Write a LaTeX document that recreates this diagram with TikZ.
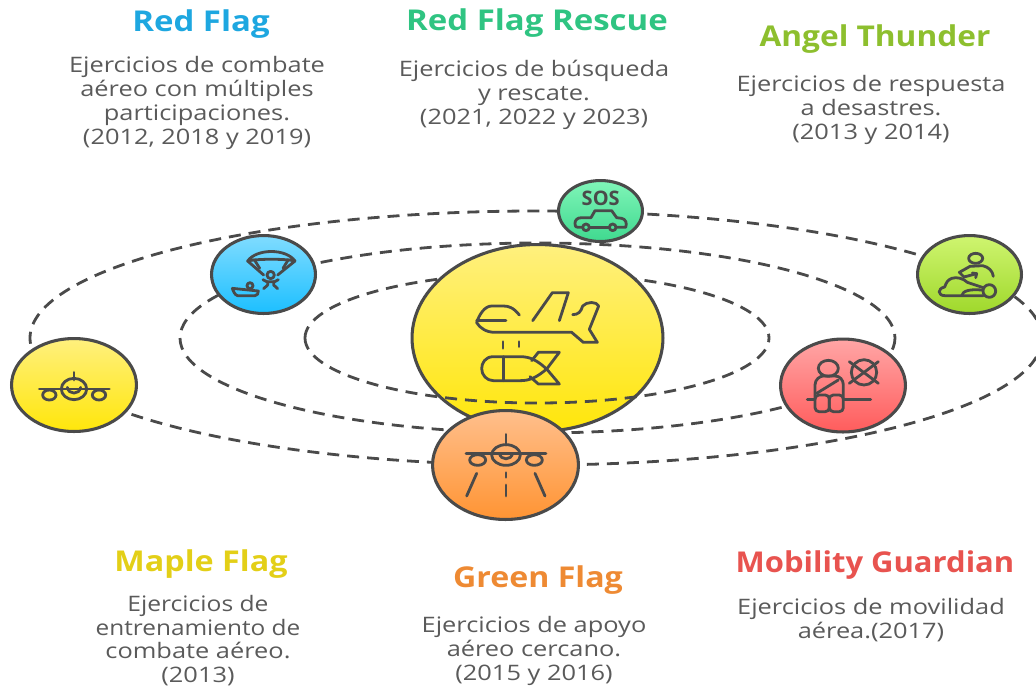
\documentclass[tikz,border=0pt]{standalone}
\usepackage{fontspec}
\usetikzlibrary{shapes.geometric}
\setmainfont{Open Sans}
\newfontfamily\bodyfont[FakeStretch=1.19]{Open Sans}
\newfontfamily\titlefont[FakeStretch=1.15]{Open Sans}
\definecolor{ink}{HTML}{4A4A4A}
\definecolor{txt}{HTML}{5A5A5A}
\definecolor{yt}{HTML}{FFF07E}\definecolor{yb}{HTML}{FFE60A}
\definecolor{ot}{HTML}{FFBF8C}\definecolor{ob}{HTML}{FF9433}
\definecolor{st}{HTML}{80F5B8}\definecolor{sb}{HTML}{3FD98F}
\definecolor{bt}{HTML}{80DCFF}\definecolor{bb}{HTML}{1CBFFF}
\definecolor{gt}{HTML}{CFF570}\definecolor{gb}{HTML}{9FD82B}
\definecolor{rt}{HTML}{FFA6A6}\definecolor{rb}{HTML}{FF5C5C}
\definecolor{c1}{HTML}{1EA7E0}\definecolor{c2}{HTML}{2FC482}
\definecolor{c3}{HTML}{8DBF2E}\definecolor{c4}{HTML}{E3CF17}
\definecolor{c5}{HTML}{EE8A33}\definecolor{c6}{HTML}{E8534F}
\tikzset{
  orb/.style n args={4}{ellipse,draw=ink,line width=2.3pt,inner sep=0pt,
    minimum width=#1*0.75pt-2.3pt,minimum height=#2*0.75pt-2.3pt,top color=#3,bottom color=#4},
  orbit/.style={draw=ink,line width=2.1pt,dash pattern=on 9pt off 6pt},
  icon/.style={draw=ink,line width=2.1pt,line cap=round,line join=round},
  ttl/.style={font=\titlefont\bfseries\fontsize{21.5}{24}\selectfont,anchor=center,inner sep=0pt},
  bdy/.style={font=\bodyfont\fontsize{16}{18}\selectfont,text=txt,align=center,anchor=center,inner sep=0pt},
}
\begin{document}
\begin{tikzpicture}[x=0.75pt,y=-0.75pt]
\useasboundingbox (0,0) rectangle (1036,687);
\begin{scope}
\clip (0,0) rectangle (1036,687);
\draw[orbit] (536,338) ellipse (506 and 127);
\draw[orbit] (537.5,338) ellipse (357.5 and 95);
\draw[orbit] (305,338) arc (180:360:232 and 65);
\node[orb={254}{190}{yt}{yb}] (core) at (537.5,338) {};
\draw[orbit] (305,338) arc (180:0:232 and 65);
\node[orb={149}{112}{ot}{ob}] (green) at (505.5,465) {};
\node[orb={87}{64}{st}{sb}] (sos) at (600.5,211) {};
\node[orb={107}{81}{bt}{bb}] (blue) at (263.5,274.5) {};
\node[orb={128}{96}{yt}{yb}] (maple) at (74,385) {};
\node[orb={107}{81}{gt}{gb}] (angel) at (969.5,274.5) {};
\node[orb={128}{96}{rt}{rb}] (mob) at (843,385.5) {};
\end{scope}

% central icon and friends (zoom 1 coordinates)
\begin{scope}[shift={(400,170)},x=0.25pt,y=-0.25pt]
 \draw[icon] (358,435) .. controls (340,412) and (325,408) .. (310,408) -- (275,408) .. controls (255,408) and (238,432) .. (230,458) .. controls (240,475) and (260,487) .. (285,487) -- (515,487) -- (550,517) -- (592,517) -- (568,478) -- (596,408) .. controls (590,394) and (560,394) .. (548,408) .. controls (543,425) and (535,434) .. (518,434);
 \draw[icon] (230,452) -- (318,452);
 \draw[icon] (398,452) -- (457,368) -- (505,368) -- (478,452);
 \draw[icon] (309,515) -- (309,535);
 \draw[icon] (357,515) -- (357,530);
 \draw[icon] (440,597) .. controls (410,570) and (390,560) .. (360,560) -- (280,560) .. controls (255,560) and (245,580) .. (245,596) .. controls (245,615) and (260,632) .. (280,632) -- (360,632) .. controls (390,632) and (410,622) .. (440,597);
 \draw[icon] (310,560) -- (310,632);
 \draw[icon] (395,572) -- (415,547) -- (478,547) -- (440,597) -- (478,642) -- (415,642) -- (390,620);
 % orange plane
 \draw[icon] (318,793) -- (318,825);
 \draw[icon] (198,850) -- (438,850);
 \draw[icon] (318,855) ellipse (43 and 31);
 \draw[icon] (298,850) .. controls (303,872) and (333,872) .. (338,850);
 \draw[icon] (233,870) ellipse (24 and 16);
 \draw[icon] (403,870) ellipse (24 and 16);
 \draw[icon] (230,910) -- (200,978);
 \draw[icon] (405,910) -- (435,978);
 \draw[icon] (318,908) -- (318,922);
 \draw[icon] (318,945) -- (318,978);
 % car
 \draw[icon] (548,172) -- (535,172) .. controls (525,172) and (525,165) .. (525,160) .. controls (525,150) and (532,143) .. (545,143) -- (573,143) -- (585,122) -- (635,122) -- (650,143) -- (665,145) .. controls (677,147) and (682,160) .. (677,172) -- (650,172);
 \draw[icon] (570,172) -- (627,172);
 \draw[icon] (558,172) circle (10);
 \draw[icon] (638,172) circle (10);
\end{scope}

% maple plane
\begin{scope}[shift={(0,230)},x=0.25pt,y=-0.25pt]
 \draw[icon] (222,427) -- (222,450);
 \draw[icon] (118,477) -- (328,477);
 \draw[icon] (222,477) ellipse (38 and 32);
 \draw[icon] (202,472) .. controls (206,495) and (238,495) .. (242,472);
 \draw[icon] (148,495) ellipse (20 and 15);
 \draw[icon] (297,495) ellipse (20 and 15);
\end{scope}

% parachute
\begin{scope}[shift={(225,245)},x=0.25pt,y=-0.25pt]
 \draw[icon] (68,48) .. controls (95,10) and (183,10) .. (210,48) .. controls (185,41) and (95,41) .. (68,48);
 \draw[icon] (68,48) -- (116,90);
 \draw[icon] (210,48) -- (158,90);
 \draw[icon] (88,44) -- (104,70);
 \draw[icon] (190,44) -- (174,70);
 \draw[icon] (137,90) circle (11);
 \draw[icon] (114,104) -- (125,110) -- (149,110) -- (160,104);
 \draw[icon] (128,110) -- (128,120) -- (116,131);
 \draw[icon] (146,110) -- (146,120) -- (158,131);
 \draw[icon] (22,130) -- (100,138) .. controls (100,145) and (97,152) .. (90,152) -- (38,152) .. controls (30,150) and (25,140) .. (22,130);
 \draw[icon] (75,122) circle (9);
\end{scope}

% massage
\begin{scope}[shift={(930,245)},x=0.25pt,y=-0.25pt]
 \draw[icon] (137,40) ellipse (21 and 15);
 \draw[icon] (102,96) -- (88,82) -- (120,64) -- (158,62) .. controls (176,66) and (188,78) .. (190,94);
 \draw[icon] (102,96) -- (140,86);
 \draw[icon] (127,84) -- (140,86) -- (137,98);
 \draw[icon] (112,112) .. controls (100,100) and (80,95) .. (65,100) .. controls (52,105) and (48,115) .. (44,126) .. controls (22,130) and (22,152) .. (45,152) -- (160,152);
 \draw[icon] (95,152) .. controls (98,137) and (120,132) .. (155,135);
 \draw[icon] (112,112) -- (160,128);
 \draw[icon] (178,138) circle (19);
\end{scope}

% seat belt
\begin{scope}[shift={(800,350)},x=0.25pt,y=-0.25pt]
 \draw[icon] (85,55) ellipse (30 and 24);
 \draw[icon] (45,145) -- (45,105) .. controls (45,88) and (60,78) .. (70,78) -- (105,78) .. controls (120,78) and (130,90) .. (130,105) -- (130,145);
 \draw[icon] (50,130) -- (115,90);
 \draw[icon,rounded corners=3pt] (88,145) -- (88,135) -- (45,135) -- (45,185) -- (88,185) -- (88,145);
 \draw[icon,rounded corners=3pt] (88,145) -- (88,135) -- (130,135) -- (130,185) -- (88,185) -- (88,145);
 \draw[icon] (22,148) -- (45,148);
 \draw[icon] (130,148) -- (212,148);
 \draw[icon] (192,67) circle (38);
 \draw[icon] (148,35) -- (235,100);
 \draw[icon] (235,35) -- (148,100);
\end{scope}

\node[font=\bfseries\fontsize{15}{16}\selectfont,text=ink,inner sep=0pt] (sostxt) at (600.7,198) {SOS};

\node[ttl,text=c1] (t1) at (201,24.5) {Red Flag};
\node[ttl,text=c2] (t2) at (537,23.5) {Red Flag Rescue};
\node[ttl,text=c3] (t3) at (875,39.5) {\scalebox{0.96}[1]{Angel Thunder}};
\node[ttl,text=c4] (t4) at (201,564.5) {\scalebox{0.98}[1]{Maple Flag}};
\node[ttl,text=c5] (t5) at (538,580) {\scalebox{0.975}[1]{Green Flag}};
\node[ttl,text=c6] (t6) at (875,565.5) {\scalebox{0.94}[1]{Mobility Guardian}};
\node[bdy] (b1) at (197,102.5) {Ejercicios de combate\\aéreo con múltiples\\participaciones.\\(2012, 2018 y 2019)};
\node[bdy] (b2) at (534,94.5) {Ejercicios de búsqueda\\y rescate.\\(2021, 2022 y 2023)};
\node[bdy] (b3) at (871,110) {Ejercicios de respuesta\\a desastres.\\(2013 y 2014)};
\node[bdy,font=\bodyfont\fontsize{16}{17.6}\selectfont] (b4) at (198,640.5) {\scalebox{0.97}[1]{Ejercicios de}\\\scalebox{0.96}[1]{entrenamiento de}\\combate aéreo.\\(2013)};
\node[bdy] (b5) at (534,651) {Ejercicios de apoyo\\aéreo cercano.\\(2015 y 2016)};
\node[bdy] (b6) at (871,620) {Ejercicios de movilidad\\aérea.(2017)};
\end{tikzpicture}
\end{document}
